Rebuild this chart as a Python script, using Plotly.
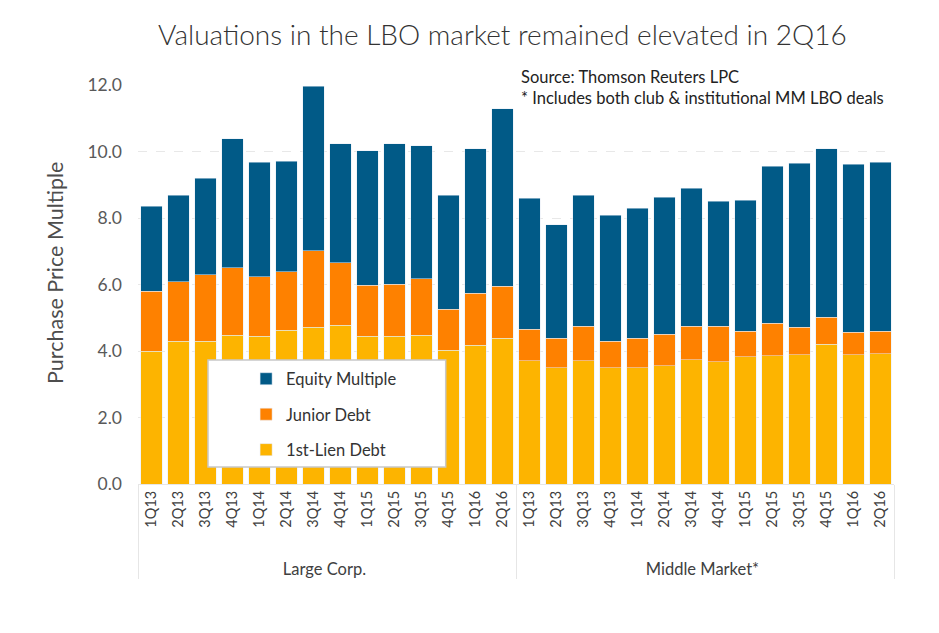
import plotly.graph_objects as go

group_names = ["Large Corp.", "Middle Market*"]
quarter_names = ["1Q13", "2Q13", "3Q13", "4Q13", "1Q14", "2Q14", "3Q14", "4Q14",
                 "1Q15", "2Q15", "3Q15", "4Q15", "1Q16", "2Q16"]

first_lien = [4.00, 4.30, 4.30, 4.48, 4.45, 4.63, 4.72, 4.78, 4.45, 4.45, 4.48, 4.03, 4.18, 4.39,
              3.70, 3.49, 3.70, 3.49, 3.49, 3.55, 3.73, 3.67, 3.82, 3.85, 3.88, 4.21, 3.88, 3.91]
junior_debt = [1.80, 1.78, 1.99, 2.02, 1.78, 1.75, 2.29, 1.87, 1.53, 1.56, 1.69, 1.23, 1.56, 1.56,
               0.96, 0.90, 1.05, 0.81, 0.90, 0.96, 1.02, 1.08, 0.78, 0.99, 0.84, 0.81, 0.69, 0.69]
equity_multiple = [2.56, 2.61, 2.91, 3.88, 3.45, 3.33, 4.96, 3.58, 4.04, 4.22, 4.00, 3.43, 4.34, 5.33,
                   3.94, 3.40, 3.94, 3.79, 3.91, 4.12, 4.15, 3.76, 3.94, 4.72, 4.93, 5.06, 5.05, 5.08]

y_ticks = [0, 2, 4, 6, 8, 10, 12]
y_tick_labels = ["0.0", "2.0", "4.0", "6.0", "8.0", "10.0", "12.0"]

FONT = "Lato"

groups = []
quarters = []
for g in group_names:
    for q in quarter_names:
        groups.append('<br><span style="font-size:16.5px">' + g + '</span>')
        quarters.append(q)
x = [groups, quarters]

fig = go.Figure()
fig.add_trace(go.Bar(x=x, y=first_lien, name="1st-Lien Debt", marker_color="#FDB400",
                     legendgroup="c", legendrank=3))
fig.add_trace(go.Bar(x=x, y=junior_debt, name="Junior Debt", marker_color="#FE8100",
                     legendgroup="b", legendrank=2))
fig.add_trace(go.Bar(x=x, y=equity_multiple, name="Equity Multiple", marker_color="#015A87",
                     legendgroup="a", legendrank=1))

n = len(quarters)
boundaries = [i + 0.5 for i in range(n - 1)]

fig.update_layout(
    width=939, height=633,
    barmode="stack", bargap=0.22,
    plot_bgcolor="white", paper_bgcolor="white",
    margin=dict(l=138, r=45, t=85, b=149, autoexpand=False),
    font=dict(family=FONT, color="#404040"),
    title=dict(text="Valuations in the LBO market remained elevated in 2Q16",
               x=0.535, xanchor="center", xref="container", y=0.945, yanchor="middle",
               font=dict(size=28, color="#333333", family=FONT, weight=300)),
    xaxis=dict(type="multicategory", tickangle=-90, tickfont=dict(size=14.5, color="#404040"),
               showline=True, linecolor="#E6E6E6", showgrid=False, ticks="", automargin=False,
               showdividers=True, dividercolor="#E6E6E6", dividerwidth=1),
    xaxis2=dict(overlaying="x", range=[-0.5, n - 0.5], tickvals=boundaries,
                ticks="outside", ticklen=55, tickcolor="#E6E6E6", showticklabels=False,
                showgrid=False, zeroline=False, showline=False, anchor="y", side="bottom",
                automargin=False),
    yaxis=dict(range=[0, 12], tickvals=y_ticks, ticktext=y_tick_labels, automargin=False,
               tickfont=dict(size=17.5, color="#595959"), ticklabelstandoff=15,
               showgrid=True, gridcolor="#E8E8E8", griddash="dash", zeroline=False),
    legend=dict(x=0.143, y=0.307, xanchor="left", yanchor="top", traceorder="grouped",
                tracegroupgap=11, bgcolor="rgba(0,0,0,0)", borderwidth=0,
                font=dict(size=16.5, color="#333333")),
    shapes=[dict(type="rect", xref="paper", yref="paper", x0=0.0926, x1=0.407,
                 y0=0.0426, y1=0.311, fillcolor="white", line=dict(color="#C8C8C8", width=1.5),
                 layer="above")],
    annotations=[
        dict(text="Source: Thomson Reuters LPC<br>* Includes both club &amp; institutional MM LBO deals",
             xref="paper", yref="paper", x=0.504, y=1.05, xanchor="left", yanchor="top",
             align="left", showarrow=False, font=dict(size=16.5, color="#222222", family=FONT)),
        dict(text="Purchase Price Multiple", xref="paper", yref="paper",
             x=(55 - 138) / 756, y=(484 - 273) / 399, xanchor="center", yanchor="middle",
             textangle=-90, showarrow=False,
             font=dict(size=21.5, color="#4D4D4D", family=FONT)),
    ],
)

fig.write_html("out.html", config={"displayModeBar": False},
               post_script="document.body.style.margin='0';")
